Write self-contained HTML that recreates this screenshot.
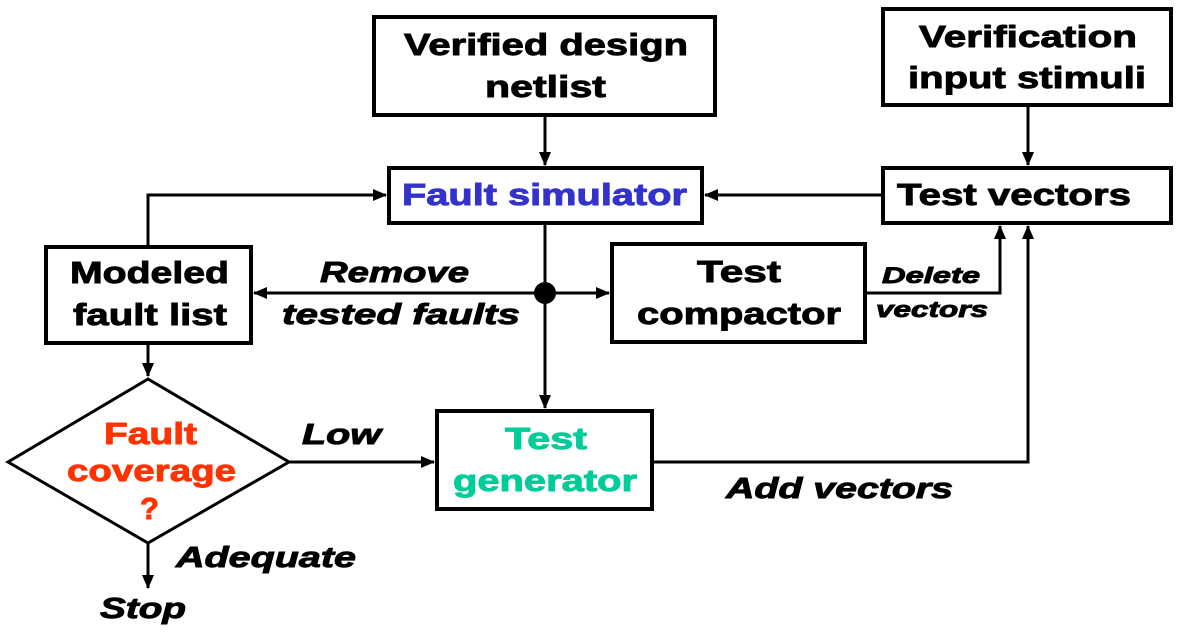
<!DOCTYPE html>
<html><head><style>
body{margin:0;background:#fff;}
svg text{font-family:"Liberation Sans",Arial,sans-serif;font-weight:bold;stroke-width:0.9;}
</style></head><body>
<svg width="1178" height="634" viewBox="0 0 1178 634" xmlns="http://www.w3.org/2000/svg">
<defs>
<marker id="a" markerWidth="14" markerHeight="12" refX="13" refY="6" orient="auto" markerUnits="userSpaceOnUse">
<path d="M0,0 L14,6 L0,12 Z" fill="#000"/></marker>
</defs>
<g fill="none" stroke="#000" stroke-width="4">
<rect x="374" y="17" width="341" height="98"/>
<rect x="883" y="9" width="288" height="96"/>
<rect x="389" y="168" width="313" height="55"/>
<rect x="883" y="168" width="288" height="55"/>
<rect x="46" y="247" width="205" height="96"/>
<rect x="612" y="244" width="253" height="98"/>
<rect x="437" y="411" width="215" height="98"/>
<polygon points="148,379 289,462 148,543 8,462" stroke-width="3"/>
</g>
<g fill="none" stroke="#000" stroke-width="3">
<line x1="545" y1="116" x2="545" y2="165" marker-end="url(#a)"/>
<line x1="1028" y1="106" x2="1028" y2="165" marker-end="url(#a)"/>
<line x1="881" y1="195" x2="705" y2="195" marker-end="url(#a)"/>
<polyline points="148,246 148,195 386,195" marker-end="url(#a)"/>
<line x1="545" y1="224" x2="545" y2="408" marker-end="url(#a)"/>
<line x1="545" y1="293" x2="254" y2="293" marker-end="url(#a)"/>
<line x1="545" y1="293" x2="609" y2="293" marker-end="url(#a)"/>
<line x1="148" y1="344" x2="148" y2="376" marker-end="url(#a)"/>
<line x1="290" y1="462" x2="434" y2="462" marker-end="url(#a)"/>
<polyline points="653,462 1028,462 1028,226" marker-end="url(#a)"/>
<polyline points="866,293 1000,293 1000,226" marker-end="url(#a)"/>
<line x1="148" y1="544" x2="148" y2="588" marker-end="url(#a)"/>
</g>
<circle cx="545" cy="293" r="11" fill="#000"/>
<g font-size="31" fill="#000" stroke="#000">
<text x="404" y="55" textLength="284" lengthAdjust="spacingAndGlyphs">Verified design</text>
<text x="485" y="97" textLength="121" lengthAdjust="spacingAndGlyphs">netlist</text>
<text x="919" y="47" textLength="218" lengthAdjust="spacingAndGlyphs">Verification</text>
<text x="908" y="88" textLength="238" lengthAdjust="spacingAndGlyphs">input stimuli</text>
<text x="402" y="205" fill="#3333cc" stroke="#3333cc" textLength="285" lengthAdjust="spacingAndGlyphs">Fault simulator</text>
<text x="897" y="205" textLength="234" lengthAdjust="spacingAndGlyphs">Test vectors</text>
<text x="70" y="283" textLength="159" lengthAdjust="spacingAndGlyphs">Modeled</text>
<text x="73" y="325" textLength="154" lengthAdjust="spacingAndGlyphs">fault list</text>
<text x="697" y="282" textLength="84" lengthAdjust="spacingAndGlyphs">Test</text>
<text x="637" y="324" textLength="204" lengthAdjust="spacingAndGlyphs">compactor</text>
<text x="505" y="449" fill="#00cc99" stroke="#00cc99" textLength="82" lengthAdjust="spacingAndGlyphs">Test</text>
<text x="453" y="491" fill="#00cc99" stroke="#00cc99" textLength="184" lengthAdjust="spacingAndGlyphs">generator</text>
<text x="104" y="444" fill="#ff3300" stroke="#ff3300" textLength="93" lengthAdjust="spacingAndGlyphs">Fault</text>
<text x="67" y="481" fill="#ff3300" stroke="#ff3300" textLength="169" lengthAdjust="spacingAndGlyphs">coverage</text>
<text x="140" y="519" fill="#ff3300" stroke="#ff3300">?</text>
</g>
<g font-size="29" font-style="italic" fill="#000" stroke="#000">
<text x="320" y="282" textLength="149" lengthAdjust="spacingAndGlyphs">Remove</text>
<text x="282" y="324" textLength="238" lengthAdjust="spacingAndGlyphs">tested faults</text>
<text x="302" y="444" textLength="79" lengthAdjust="spacingAndGlyphs">Low</text>
<text x="726" y="498" textLength="227" lengthAdjust="spacingAndGlyphs">Add vectors</text>
<text x="176" y="567" textLength="180" lengthAdjust="spacingAndGlyphs">Adequate</text>
<text x="100" y="618" textLength="86" lengthAdjust="spacingAndGlyphs">Stop</text>
</g>
<g font-size="22" font-style="italic" fill="#000" stroke="#000">
<text x="882" y="283" textLength="98" lengthAdjust="spacingAndGlyphs">Delete</text>
<text x="876" y="317" textLength="112" lengthAdjust="spacingAndGlyphs">vectors</text>
</g>
</svg>
</body></html>
